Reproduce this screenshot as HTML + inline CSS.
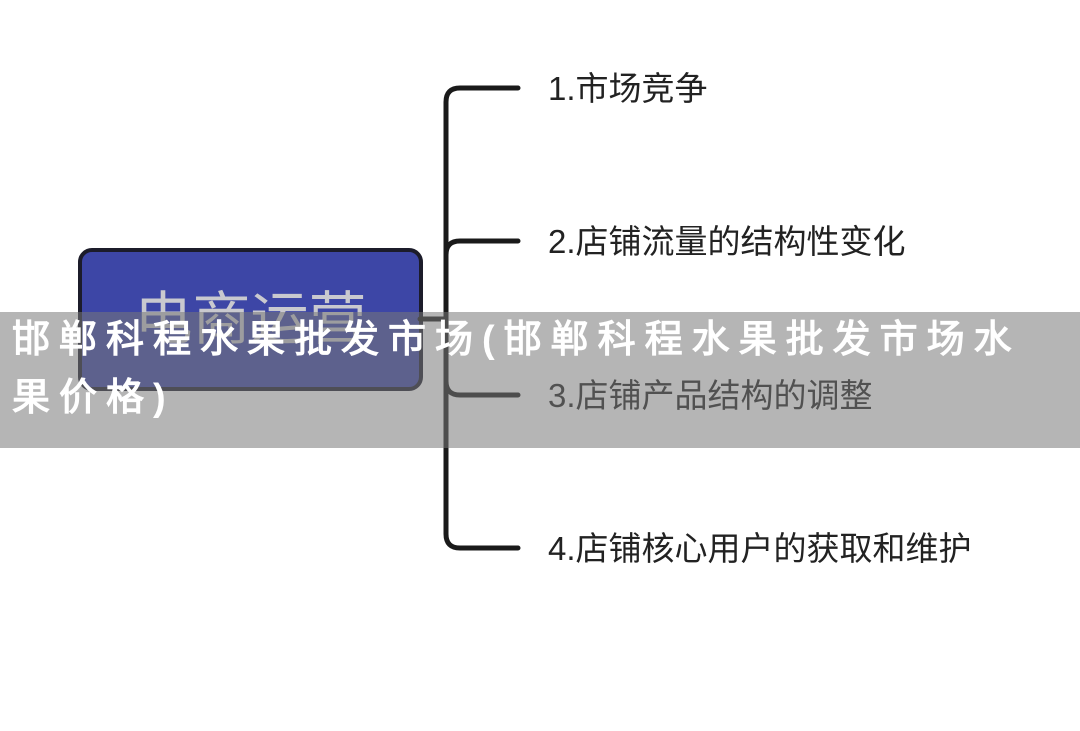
<!DOCTYPE html>
<html><head><meta charset="utf-8"><style>
body{margin:0;width:1080px;height:731px;background:#fff;position:relative;overflow:hidden;font-family:"Liberation Sans","Noto Sans CJK SC",sans-serif;}
.box{position:absolute;left:78px;top:248px;width:337px;height:135px;background:#3d46a6;border:4px solid #1c1c2a;border-radius:14px;}
.bt{position:absolute;left:78px;top:272px;width:345px;text-align:center;font-size:58px;color:#c9c9cf;}
.lbl{position:absolute;left:548px;font-size:33px;color:#222;white-space:nowrap;}
.band{position:absolute;left:0;top:312px;width:1080px;height:136px;background:rgba(120,120,120,0.55);}
.wm{position:absolute;left:12px;top:311px;width:1030px;font-size:38px;line-height:58px;color:#fff;font-weight:bold;letter-spacing:9px;font-family:"Liberation Sans","WenQuanYi Zen Hei",sans-serif;}
</style></head><body>
<div class="box"></div>
<div class="bt">电商运营</div>
<svg style="position:absolute;left:0;top:0" width="1080" height="731">
<g fill="none" stroke="#1a1a1a" stroke-width="5" stroke-linecap="round">
<line x1="420" y1="319" x2="446" y2="319"/>
<path d="M518 88 H460 Q446 88 446 102 V534 Q446 548 460 548 H518"/>
<path d="M518 241 H460 Q446 241 446 255"/>
<path d="M518 395 H460 Q446 395 446 381"/>
</g></svg>
<div class="lbl" style="top:62px">1.市场竞争</div>
<div class="lbl" style="top:215px">2.店铺流量的结构性变化</div>
<div class="lbl" style="top:369px">3.店铺产品结构的调整</div>
<div class="lbl" style="top:522px">4.店铺核心用户的获取和维护</div>
<div class="band"></div>
<div class="wm">邯郸科程水果批发市场(邯郸科程水果批发市场水果价格)</div>
</body></html>
